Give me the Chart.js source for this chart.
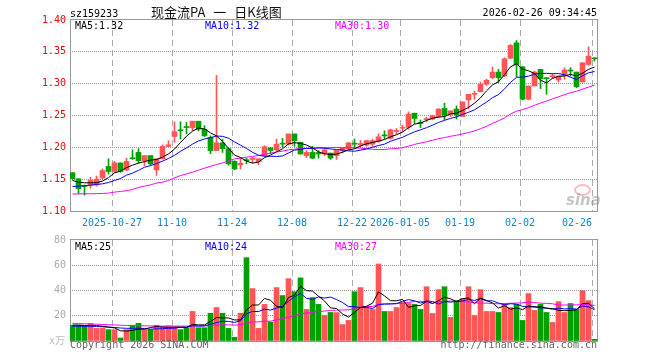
<!DOCTYPE html>
<html>
<head>
<meta charset="utf-8">
<script src="https://cdn.jsdelivr.net/npm/chart.js@4.4.1/dist/chart.umd.min.js"></script>
<style>
  body { margin: 0; background: #fff; width: 660px; height: 360px; position: relative; overflow: hidden;
         font-family: "DejaVu Sans Mono", "Noto Sans CJK SC", monospace; font-size: 10px; }
  canvas { position: absolute; left: 0; }
  .t { position: absolute; white-space: pre; line-height: 10px; }
</style>
</head>
<body>
<canvas id="kChart" width="660" height="236" style="top:0"></canvas>
<canvas id="volChart" width="660" height="132" style="top:228px"></canvas>

<div class="t" style="left:70px;top:9px;color:#000">sz159233</div>
<div class="t" style="left:151px;top:5px;font:13px 'Noto Sans CJK SC';line-height:14px;word-spacing:5px;color:#111">现金流PA 一 日K线图</div>
<div class="t" style="right:63px;top:8px;color:#000">2026-02-26 09:34:45</div>

<div class="t" style="left:75px;top:21px;color:#000">MA5:1.32</div>
<div class="t" style="left:205px;top:21px;color:#0000ff">MA10:1.32</div>
<div class="t" style="left:335px;top:21px;color:#ff00ff">MA30:1.30</div>

<div class="t" style="left:75px;top:242px;color:#000">MA5:25</div>
<div class="t" style="left:205px;top:242px;color:#0000ff">MA10:24</div>
<div class="t" style="left:335px;top:242px;color:#ff00ff">MA30:27</div>

<div class="t" style="left:49px;top:336px;color:#bbb">x万</div>
<div class="t" style="left:70px;top:340px;color:#666">Copyright 2026 SINA.COM</div>
<div class="t" style="right:63px;top:340px;color:#666">http://finance.sina.com.cn</div>

<!-- faint sina watermark -->
<div style="position:absolute;left:574px;top:184px;width:13px;height:8px;border:2px solid rgba(240,110,110,0.45);border-radius:50%"></div>
<div class="t" style="left:566px;top:193px;font:italic bold 15px 'DejaVu Sans';line-height:14px;color:rgba(150,150,150,0.55)">sina</div>

<script>
const tickIdx = [7, 17, 27, 37, 47, 55, 65, 75, 87];
const tickLabels = ["2025-10-27", "11-10", "11-24", "12-08", "12-22", "2026-01-05", "01-19", "02-02", "02-26"];

const open = [
  1.160, 1.1505, 1.1395, 1.140, 1.141, 1.152, 1.170, 1.162, 1.1755, 1.1645,
  1.183, 1.192, 1.179, 1.187, 1.1645, 1.182, 1.2015, 1.217, 1.227, 1.232,
  1.231, 1.241, 1.2285, 1.2155, 1.195, 1.207, 1.198, 1.178, 1.1725, 1.180,
  1.181, 1.1775, 1.187, 1.199, 1.196, 1.206, 1.205, 1.221, 1.208, 1.187,
  1.192, 1.192, 1.1895, 1.191, 1.187, 1.195, 1.1975, 1.206, 1.204, 1.2035,
  1.205, 1.2095, 1.219, 1.214, 1.225, 1.230, 1.2313, 1.2536, 1.2385, 1.2435,
  1.2443, 1.2484, 1.261, 1.2521, 1.260, 1.2484, 1.2745, 1.2833, 1.2875, 1.299,
  1.3094, 1.3182, 1.312, 1.340, 1.364, 1.3266, 1.2755, 1.2964, 1.3224, 1.3088,
  1.311, 1.3057, 1.312, 1.3208, 1.3182, 1.3026, 1.3302, 1.3406
];
const high = [
  1.1605, 1.151, 1.141, 1.153, 1.155, 1.166, 1.182, 1.178, 1.1755, 1.183,
  1.196, 1.198, 1.187, 1.187, 1.182, 1.204, 1.2105, 1.240, 1.240, 1.239,
  1.241, 1.241, 1.234, 1.218, 1.313, 1.213, 1.198, 1.179, 1.183, 1.183,
  1.184, 1.182, 1.2025, 1.200, 1.213, 1.214, 1.221, 1.221, 1.208, 1.195,
  1.2015, 1.195, 1.200, 1.191, 1.195, 1.1985, 1.208, 1.213, 1.2105, 1.2105,
  1.213, 1.221, 1.226, 1.2285, 1.2295, 1.235, 1.2557, 1.2536, 1.243, 1.247,
  1.2505, 1.261, 1.2693, 1.2573, 1.265, 1.2713, 1.2833, 1.2885, 1.3026, 1.3068,
  1.326, 1.3224, 1.3406, 1.3615, 1.3677, 1.3266, 1.2964, 1.3198, 1.3224, 1.3094,
  1.316, 1.312, 1.325, 1.325, 1.3182, 1.3328, 1.3578, 1.3406
];
const low = [
  1.150, 1.127, 1.125, 1.136, 1.139, 1.1505, 1.158, 1.161, 1.161, 1.1635,
  1.181, 1.1755, 1.171, 1.172, 1.156, 1.182, 1.2015, 1.208, 1.213, 1.221,
  1.226, 1.226, 1.217, 1.190, 1.195, 1.192, 1.172, 1.1645, 1.166, 1.174,
  1.1755, 1.1725, 1.186, 1.190, 1.195, 1.200, 1.2035, 1.2015, 1.1895, 1.184,
  1.182, 1.183, 1.187, 1.181, 1.181, 1.191, 1.1965, 1.1985, 1.200, 1.2015,
  1.2015, 1.208, 1.213, 1.213, 1.221, 1.2245, 1.2287, 1.2375, 1.231, 1.240,
  1.2432, 1.2469, 1.2432, 1.2484, 1.2443, 1.2484, 1.261, 1.2755, 1.287, 1.2974,
  1.3078, 1.3016, 1.311, 1.339, 1.311, 1.2745, 1.2745, 1.2964, 1.2922, 1.2833,
  1.3078, 1.3026, 1.3068, 1.312, 1.2937, 1.3026, 1.3286, 1.3354
];
const close = [
  1.1505, 1.135, 1.1385, 1.148, 1.150, 1.1635, 1.162, 1.1755, 1.162, 1.178,
  1.182, 1.179, 1.187, 1.174, 1.182, 1.2015, 1.204, 1.2245, 1.226, 1.231,
  1.241, 1.2285, 1.218, 1.195, 1.207, 1.198, 1.174, 1.166, 1.175, 1.179,
  1.182, 1.182, 1.201, 1.195, 1.205, 1.205, 1.221, 1.2105, 1.1895, 1.192,
  1.183, 1.1895, 1.196, 1.183, 1.195, 1.1985, 1.207, 1.205, 1.206, 1.2105,
  1.2105, 1.2165, 1.218, 1.2275, 1.226, 1.231, 1.252, 1.2453, 1.2375, 1.2445,
  1.2495, 1.260, 1.2505, 1.2573, 1.2505, 1.2713, 1.2833, 1.2844, 1.299, 1.3052,
  1.3182, 1.3094, 1.339, 1.360, 1.330, 1.2755, 1.2964, 1.3182, 1.3078, 1.3078,
  1.312, 1.312, 1.3214, 1.3198, 1.2953, 1.3328, 1.3432, 1.339
];
const ma5 = [
  1.1479, 1.1453, 1.1443, 1.1443, 1.1444, 1.147, 1.1524, 1.1598, 1.1626, 1.1682,
  1.1719, 1.1753, 1.1776, 1.18, 1.1808, 1.1847, 1.1897, 1.1972, 1.2076, 1.2174,
  1.2253, 1.2302, 1.2289, 1.2227, 1.2179, 1.2093, 1.1984, 1.188, 1.184, 1.1784,
  1.1752, 1.1768, 1.1838, 1.1878, 1.193, 1.1976, 1.2054, 1.2073, 1.2062, 1.2036,
  1.1992, 1.1929, 1.19, 1.1887, 1.1893, 1.1924, 1.1959, 1.1977, 1.2023, 1.2054,
  1.2078, 1.2097, 1.2123, 1.2166, 1.2197, 1.2238, 1.2309, 1.2364, 1.2384, 1.2421,
  1.2458, 1.2474, 1.2484, 1.2524, 1.2536, 1.2579, 1.2626, 1.2694, 1.2777, 1.2886,
  1.298, 1.3032, 1.3142, 1.3264, 1.3313, 1.3228, 1.3202, 1.316, 1.3056, 1.3011,
  1.3084, 1.3116, 1.3122, 1.3146, 1.3121, 1.3163, 1.3225, 1.326
];
const ma10 = [
  1.1385, 1.139, 1.1396, 1.1406, 1.1417, 1.1427, 1.1448, 1.1479, 1.151, 1.1563,
  1.1595, 1.1639, 1.1687, 1.1713, 1.1745, 1.1783, 1.1825, 1.1874, 1.1938, 1.1991,
  1.205, 1.21, 1.2131, 1.2152, 1.2177, 1.2173, 1.2143, 1.2085, 1.2034, 1.1982,
  1.1923, 1.1876, 1.1859, 1.1859, 1.1857, 1.1864, 1.1911, 1.1956, 1.197, 1.1983,
  1.1984, 1.1992, 1.1987, 1.1975, 1.1965, 1.1958, 1.1944, 1.1939, 1.1955, 1.1974,
  1.2001, 1.2028, 1.205, 1.2095, 1.2126, 1.2158, 1.2203, 1.2243, 1.2275, 1.2309,
  1.2348, 1.2391, 1.2424, 1.2454, 1.2478, 1.2518, 1.255, 1.2589, 1.265, 1.2711,
  1.278, 1.2829, 1.2918, 1.302, 1.31, 1.3104, 1.3117, 1.3151, 1.316, 1.3162,
  1.3156, 1.3159, 1.3141, 1.3101, 1.3066, 1.3124, 1.317, 1.3191
];
const ma30 = [
  1.1266, 1.1268, 1.127, 1.1271, 1.1273, 1.1276, 1.1281, 1.1297, 1.1307, 1.1318,
  1.1339, 1.137, 1.1391, 1.1411, 1.1438, 1.1453, 1.1479, 1.1521, 1.1557, 1.1583,
  1.1609, 1.1641, 1.1672, 1.1703, 1.1729, 1.1755, 1.1786, 1.1818, 1.1833, 1.1845,
  1.1856, 1.1871, 1.1892, 1.1908, 1.1926, 1.194, 1.196, 1.1971, 1.1981, 1.1985,
  1.1986, 1.1989, 1.1992, 1.1995, 1.1999, 1.1998, 1.1999, 1.1993, 1.1986, 1.1979,
  1.1969, 1.1965, 1.1965, 1.1976, 1.1982, 1.1993, 1.2019, 1.2046, 1.2067, 1.2088,
  1.2111, 1.2137, 1.2153, 1.2174, 1.2189, 1.2211, 1.2232, 1.2257, 1.2293, 1.2331,
  1.2376, 1.2416, 1.2464, 1.2523, 1.2568, 1.2593, 1.2623, 1.2661, 1.2695, 1.2727,
  1.2761, 1.2793, 1.2828, 1.2858, 1.2881, 1.2915, 1.2946, 1.2977
];

// volume, 万手
const vol = [
  12.5, 12.5, 12, 14, 10, 10, 9, 9, 2.4, 9,
  12.5, 14, 9, 9, 12.5, 11, 12, 10.5, 9, 10.5,
  23.4, 10.5, 10.5, 22, 26.5, 22, 10, 3, 22, 66,
  41.5, 10, 29, 15, 42.3, 36, 49.4, 39, 50, 25,
  34.4, 29, 20.2, 22.6, 22.5, 13, 16.3, 39, 42.3, 27,
  25, 61, 23.4, 23.4, 26.5, 30.5, 29.7, 29, 25, 43,
  21.8, 40.7, 43, 18.7, 32, 33.6, 43, 20.2, 40.7, 23.4,
  23.4, 22.6, 29.7, 26.5, 29, 16.3, 37.6, 24.2, 29, 22.6,
  14.7, 31.2, 22.6, 29.7, 25, 39.9, 32, 1.3
];
const vma5 = [
  12.6, 12.6, 12.3, 12.3, 12.2, 11.7, 11, 10.4, 8.08, 7.88,
  8.38, 9.38, 9.38, 10.7, 11.4, 11.1, 10.7, 11, 11, 10.6,
  13.08, 12.78, 12.78, 15.38, 18.58, 18.3, 18.2, 16.7, 16.7, 24.6,
  28.5, 28.5, 33.7, 32.3, 27.56, 26.46, 34.34, 36.34, 43.34, 39.88,
  39.56, 35.48, 31.72, 26.24, 25.74, 21.46, 18.92, 22.68, 26.62, 27.52,
  29.92, 38.86, 35.74, 31.96, 31.86, 32.96, 26.7, 27.82, 28.14, 31.44,
  29.7, 31.9, 34.7, 33.44, 31.24, 33.6, 34.06, 29.5, 33.9, 32.18,
  30.14, 26.06, 27.96, 25.12, 26.24, 24.82, 27.82, 26.72, 27.22, 25.94,
  25.62, 24.34, 24.02, 24.16, 24.64, 29.68, 29.84, 25.58
];
const vma10 = [
  11.8, 11.8, 11.7, 11.7, 11.5, 11.2, 11, 10.7, 10.3, 10.04,
  10.04, 10.19, 9.89, 9.39, 9.64, 9.74, 10.04, 10.19, 10.85, 11,
  12.09, 11.74, 11.89, 13.19, 14.59, 15.69, 15.49, 14.74, 16.04, 21.59,
  23.4, 23.35, 25.2, 24.5, 26.08, 27.48, 31.42, 35.02, 37.82, 33.72,
  33.01, 34.91, 34.03, 34.79, 32.81, 30.51, 27.2, 27.2, 26.43, 26.63,
  25.69, 28.89, 29.21, 29.29, 29.69, 31.44, 32.78, 31.78, 30.05, 31.65,
  31.33, 29.3, 31.26, 30.79, 31.34, 31.65, 32.98, 32.1, 33.67, 31.71,
  31.87, 30.06, 28.73, 29.51, 29.21, 27.48, 26.94, 27.34, 26.17, 26.09,
  25.22, 26.08, 25.37, 25.69, 25.29, 27.65, 27.09, 24.8
];
const vma30 = [
  14, 13.8, 13.6, 13.5, 13.3, 13.1, 12.9, 12.7, 12.5, 12.3,
  12.2, 12.1, 12, 11.9, 11.8, 11.8, 11.8, 11.8, 11.8, 11.8,
  12, 12, 12.1, 12.3, 12.6, 12.8, 12.8, 12.6, 12.8, 14.21,
  15.18, 15.09, 15.66, 15.69, 16.77, 17.64, 18.98, 19.98, 21.57, 22.1,
  22.83, 23.33, 23.71, 24.16, 24.49, 24.56, 24.7, 25.65, 26.76, 27.31,
  27.37, 29.05, 29.48, 29.53, 29.53, 29.81, 30.47, 31.33, 31.43, 30.67,
  30.01, 31.03, 31.5, 31.62, 31.28, 31.2, 30.99, 30.36, 30.05, 30,
  29.63, 29.42, 29.73, 29.86, 30.08, 30.19, 30.9, 30.41, 29.96, 29.82,
  29.47, 28.48, 28.45, 28.66, 28.61, 28.93, 29, 28.08
];

const MONO = "DejaVu Sans Mono";
const UP = "#ff5555";
const DOWN = "#00a000";
// slot i spans 6px, slot 0 starting at the left edge of the plot
const X_MIN = -5 / 12;
const X_MAX = X_MIN + open.length;

const barColor = (c) => (close[c.dataIndex] >= open[c.dataIndex] ? UP : DOWN);
const pts = (arr) => arr.map((v, i) => ({ x: i, y: v }));

/* plot frame, drawn over the grid */
const frame = {
  id: "frame",
  beforeDatasetsDraw(chart) {
    const { ctx, chartArea: a } = chart;
    ctx.save();
    ctx.strokeStyle = "#999";
    ctx.lineWidth = 1;
    ctx.strokeRect(a.left + 0.5, a.top - 0.5, a.right - a.left - 1, a.bottom - a.top + 1);
    ctx.restore();
  },
};

function xScale(showLabels, height) {
  return {
    type: "linear",
    min: X_MIN,
    max: X_MAX,
    bounds: "data",
    offset: false,
    afterBuildTicks: (s) => {
      s.ticks = tickIdx.map((i) => ({ value: i + X_MIN }));
    },
    afterFit: (s) => {
      s.height = height;
    },
    grid: { color: "#aaa", lineWidth: 1, drawTicks: false, offset: false },
    border: { display: false, dash: [6, 4] },
    ticks: {
      display: showLabels,
      autoSkip: false,
      maxRotation: 0,
      padding: 6,
      color: "#0a86d4",
      font: { family: MONO, size: 10 },
      // last label sits left of its line, like the original
      callback: (v, i) => (i === tickLabels.length - 1 ? tickLabels[i] + "     " : tickLabels[i]),
    },
  };
}

function maLine(arr, color) {
  return {
    type: "line",
    data: pts(arr),
    borderColor: color,
    borderWidth: 1,
    pointRadius: 0,
    tension: 0,
    order: 0,
  };
}

const common = {
  responsive: false,
  animation: false,
  devicePixelRatio: 1,
  events: [],
  plugins: { legend: { display: false }, tooltip: { enabled: false } },
};

/* K line chart */
new Chart(document.getElementById("kChart"), {
  type: "bar",
  data: {
    datasets: [
      maLine(ma5, "#000000"),
      maLine(ma10, "#0000ff"),
      maLine(ma30, "#ff00ff"),
      {
        data: open.map((o, i) => ({ x: i, y: [o, close[i]] })),
        backgroundColor: barColor,
        barThickness: 5,
        minBarLength: 1,
        grouped: false,
        order: 1,
      },
      {
        data: low.map((l, i) => ({ x: i, y: [l, high[i]] })),
        backgroundColor: barColor,
        barThickness: 1,
        minBarLength: 1,
        grouped: false,
        order: 2,
      },
    ],
  },
  options: {
    ...common,
    layout: { padding: { top: 20, right: 62, left: 0, bottom: 0 } },
    scales: {
      x: xScale(true, 25),
      y: {
        min: 1.1,
        max: 1.4,
        afterFit: (s) => {
          s.width = 70;
        },
        grid: {
          color: (c) => (c.tick && (Math.abs(c.tick.value - 1.1) < 1e-6 || Math.abs(c.tick.value - 1.4) < 1e-6) ? "rgba(0,0,0,0)" : "#999"),
          drawTicks: false,
        },
        border: { display: false, dash: [1, 1] },
        ticks: {
          stepSize: 0.05,
          padding: 4,
          color: "#ff0000",
          font: { family: MONO, size: 10 },
          callback: (v) => v.toFixed(2),
        },
      },
    },
  },
  plugins: [frame],
});

/* volume chart */
new Chart(document.getElementById("volChart"), {
  type: "bar",
  data: {
    datasets: [
      maLine(vma5, "#000000"),
      maLine(vma10, "#0000ff"),
      maLine(vma30, "#ff00ff"),
      {
        data: pts(vol),
        backgroundColor: barColor,
        barThickness: 5,
        grouped: false,
        order: 1,
      },
    ],
  },
  options: {
    ...common,
    layout: { padding: { top: 12, right: 62, left: 0, bottom: 0 } },
    scales: {
      x: xScale(false, 19),
      y: {
        min: 0,
        max: 80,
        afterFit: (s) => {
          s.width = 70;
        },
        grid: {
          color: (c) => (c.tick && (c.tick.value === 0 || c.tick.value === 80) ? "rgba(0,0,0,0)" : "#999"),
          drawTicks: false,
        },
        border: { display: false, dash: [1, 1] },
        ticks: {
          stepSize: 20,
          padding: 4,
          color: "#aaa",
          font: { family: MONO, size: 10 },
          callback: (v) => (v === 0 ? "" : v),
        },
      },
    },
  },
  plugins: [frame],
});
</script>
</body>
</html>
